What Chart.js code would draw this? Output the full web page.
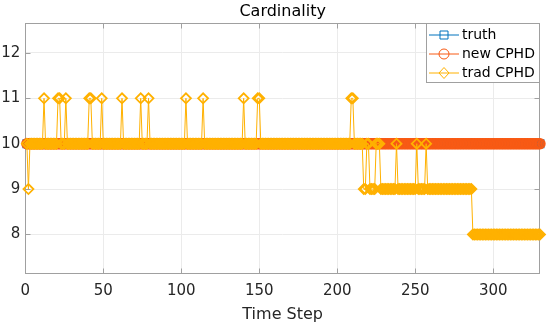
<!DOCTYPE html>
<html>
<head>
<meta charset="utf-8">
<title>Cardinality</title>
<script src="https://cdn.jsdelivr.net/npm/chart.js@4.4.1/dist/chart.umd.min.js"></script>
<style>
  html, body { margin: 0; padding: 0; background: #fff; }
  #wrap { width: 550px; height: 326px; }
</style>
</head>
<body>
<div id="wrap"><canvas id="cardChart" width="550" height="326"></canvas></div>
<script>
// Cardinality per time step as [value, number of steps] runs
const truthRuns = [[10, 330]];
const newCphdRuns = [[10, 330]];
const tradCphdRuns = [
  [10, 1], [9, 1], [10, 9], [11, 1], [10, 8], [11, 2], [10, 3], [11, 1], [10, 14], [11, 2],
  [10, 6], [11, 1], [10, 12], [11, 1], [10, 11], [11, 1], [10, 4], [11, 1], [10, 23], [11, 1],
  [10, 10], [11, 1], [10, 25], [11, 1], [10, 8], [11, 2], [10, 58], [11, 2], [10, 6], [9, 2],
  [10, 2], [9, 4], [10, 3], [9, 10], [10, 1], [9, 12], [10, 1], [9, 5], [10, 1], [9, 29],
  [8, 44]
];

const xTicks = [0, 50, 100, 150, 200, 250, 300];
const yTicks = [8, 9, 10, 11, 12];

const seriesNames = ['truth', 'new CPHD', 'trad CPHD'];
const seriesColors = ['#0072BD', '#F85A14', '#FFB100'];
const seriesMarkers = ['rect', 'circle', 'rectRot'];

const FONT = 'DejaVu Sans';
const TEXT_COLOR = '#262626';
const AXIS_COLOR = '#A0A0A0';
const GRID_COLOR = '#EBEBEB';

// turn [value, count] runs into one value per time step
function expandRuns(runs) {
  const out = [];
  runs.forEach(([v, n]) => {
    for (let i = 0; i < n; i++) out.push(v);
  });
  return out;
}

function toPoints(values) {
  return values.map((v, i) => ({ x: i + 1, y: v }));
}

function makeDataset(idx, values, radius, order) {
  return {
    label: seriesNames[idx],
    data: toPoints(values),
    borderColor: seriesColors[idx],
    borderWidth: 1,
    pointStyle: seriesMarkers[idx],
    pointRadius: radius,
    pointBorderWidth: 1.8,
    pointBorderColor: seriesColors[idx],
    pointBackgroundColor: 'rgba(0,0,0,0)',
    tension: 0,
    clip: false,
    order: order
  };
}

// axes box with inward ticks, like the original figure
const framePlugin = {
  id: 'frame',
  beforeDatasetsDraw(chart) {
    const { ctx, chartArea: a, scales } = chart;
    const l = Math.round(a.left) + 0.5, r = Math.round(a.right) - 0.5;
    const t = Math.round(a.top) + 0.5, b = Math.round(a.bottom) - 0.5;
    ctx.save();
    ctx.strokeStyle = AXIS_COLOR;
    ctx.lineWidth = 1;
    ctx.strokeRect(l, t, r - l, b - t);
    ctx.beginPath();
    xTicks.forEach(v => {
      const px = Math.round(scales.x.getPixelForValue(v)) + 0.5;
      ctx.moveTo(px, b); ctx.lineTo(px, b - 5);
      ctx.moveTo(px, t); ctx.lineTo(px, t + 5);
    });
    yTicks.forEach(v => {
      const py = Math.round(scales.y.getPixelForValue(v)) + 0.5;
      ctx.moveTo(l, py); ctx.lineTo(l + 5, py);
      ctx.moveTo(r, py); ctx.lineTo(r - 5, py);
    });
    ctx.stroke();
    ctx.restore();
  }
};

function drawMarker(ctx, style, cx, cy) {
  ctx.beginPath();
  if (style === 'rect') {
    ctx.rect(cx - 4, cy - 4, 8, 8);
  } else if (style === 'circle') {
    ctx.arc(cx, cy, 5, 0, Math.PI * 2);
  } else {
    ctx.moveTo(cx, cy - 5.5);
    ctx.lineTo(cx + 5, cy);
    ctx.lineTo(cx, cy + 5.5);
    ctx.lineTo(cx - 5, cy);
    ctx.closePath();
  }
  ctx.stroke();
}

// title and legend box
const titleLegendPlugin = {
  id: 'titleLegend',
  afterDraw(chart) {
    const { ctx, chartArea: a } = chart;
    ctx.save();
    ctx.fillStyle = '#000';
    ctx.font = '16px "' + FONT + '"';
    ctx.textAlign = 'center';
    ctx.textBaseline = 'middle';
    ctx.fillText('Cardinality', (a.left + a.right) / 2, 11.5);

    const bx = 426.5, by = 23.5, bw = 113, bh = 59;
    ctx.fillStyle = '#fff';
    ctx.fillRect(bx, by, bw, bh);
    ctx.strokeStyle = AXIS_COLOR;
    ctx.lineWidth = 1;
    ctx.strokeRect(bx, by, bw, bh);

    ctx.font = '14px "' + FONT + '"';
    ctx.textAlign = 'left';
    seriesNames.forEach((name, i) => {
      const cy = 35 + i * 19;
      ctx.strokeStyle = seriesColors[i];
      ctx.beginPath();
      ctx.moveTo(429, cy);
      ctx.lineTo(459, cy);
      ctx.stroke();
      drawMarker(ctx, seriesMarkers[i], 444, cy);
      ctx.fillStyle = '#000';
      ctx.fillText(name, 462, cy);
    });
    ctx.restore();
  }
};

document.addEventListener('DOMContentLoaded', function() {
  const ctx = document.getElementById('cardChart').getContext('2d');

  new Chart(ctx, {
    type: 'line',
    data: {
      datasets: [
        makeDataset(0, expandRuns(truthRuns), 5, 3),
        makeDataset(1, expandRuns(newCphdRuns), 4.8, 2),
        makeDataset(2, expandRuns(tradCphdRuns), 5, 1)
      ]
    },
    options: {
      responsive: false,
      animation: false,
      layout: { padding: { top: 23, right: 10, left: 0, bottom: 0 } },
      plugins: {
        legend: { display: false },
        title: { display: false },
        tooltip: { enabled: false }
      },
      scales: {
        x: {
          type: 'linear',
          min: 0,
          max: 330,
          afterBuildTicks: s => { s.ticks = xTicks.map(v => ({ value: v })); },
          afterFit: s => { s.height = 52.5; },
          grid: { color: GRID_COLOR, drawTicks: false },
          border: { display: false },
          ticks: {
            padding: 9,
            maxRotation: 0,
            autoSkip: false,
            color: TEXT_COLOR,
            font: { family: FONT, size: 15 }
          },
          title: {
            display: true,
            text: 'Time Step',
            color: TEXT_COLOR,
            font: { family: FONT, size: 16 },
            padding: { top: 0, bottom: 2 }
          }
        },
        y: {
          type: 'linear',
          min: 7.14,
          max: 12.66,
          afterBuildTicks: s => { s.ticks = yTicks.map(v => ({ value: v })); },
          afterFit: s => { s.width = 25.3; },
          grid: { color: GRID_COLOR, drawTicks: false },
          border: { display: false },
          ticks: {
            padding: 5,
            color: TEXT_COLOR,
            font: { family: FONT, size: 15 }
          }
        }
      }
    },
    plugins: [framePlugin, titleLegendPlugin]
  });
});
</script>
</body>
</html>
